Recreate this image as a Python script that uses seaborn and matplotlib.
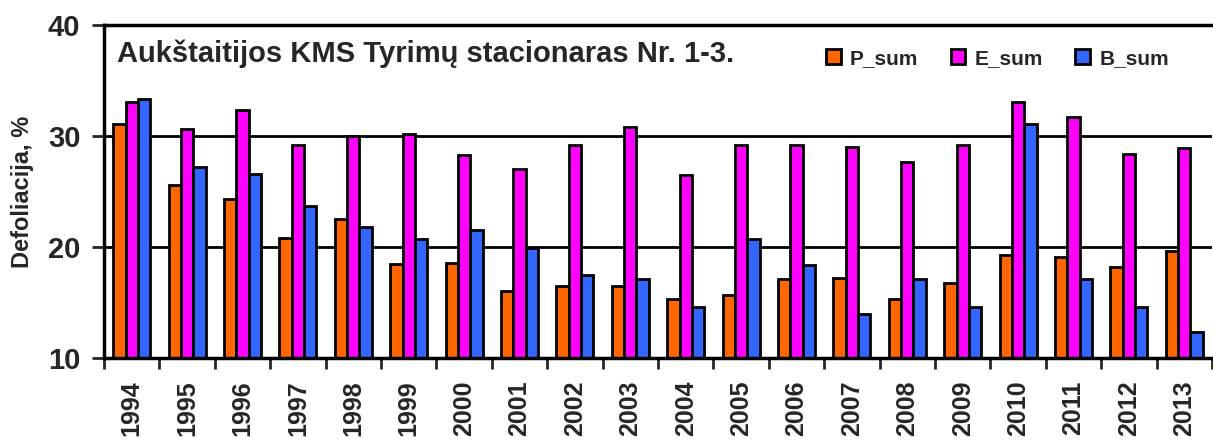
import numpy as np
import pandas as pd
import seaborn as sns
import matplotlib.pyplot as plt
from matplotlib.ticker import FixedLocator

years = [str(y) for y in range(1994, 2014)]
p_sum = [31.1, 25.6, 24.3, 20.8, 22.5, 18.5, 18.6, 16.0, 16.5, 16.5,
         15.3, 15.7, 17.1, 17.2, 15.3, 16.8, 19.3, 19.1, 18.2, 19.6]
e_sum = [33.1, 30.6, 32.3, 29.2, 30.0, 30.2, 28.3, 27.0, 29.2, 30.8,
         26.5, 29.2, 29.2, 29.0, 27.7, 29.2, 33.1, 31.7, 28.4, 28.9]
b_sum = [33.3, 27.2, 26.6, 23.7, 21.8, 20.7, 21.5, 19.9, 17.5, 17.1,
         14.6, 20.7, 18.4, 14.0, 17.1, 14.6, 31.1, 17.1, 14.6, 12.3]
series = ["P_sum", "E_sum", "B_sum"]
colors = ["#FF6600", "#FF00FF", "#3366FF"]

df = pd.DataFrame({"year": years * 3,
                   "value": p_sum + e_sum + b_sum,
                   "series": np.repeat(series, len(years))})

sns.set_style("white")
plt.rcParams['font.family'] = ['Liberation Sans', 'DejaVu Sans']

fig = plt.figure(figsize=(12.13, 4.45), dpi=100)
ax = fig.add_axes([104 / 1213, 1 - 358 / 445, 1108 / 1213, 333 / 445])

sns.barplot(data=df, x="year", y="value", hue="series", palette=colors,
            width=0.67, edgecolor="black", linewidth=2, ax=ax,
            saturation=1)

ax.set_ylim(10, 40)
ax.set_xlim(-0.5, len(years) - 0.5)
ax.set_yticks([10, 20, 30, 40])
ax.tick_params(axis="y", direction="out", length=9, width=2, left=True,
               labelsize=21, pad=8)
for lab in ax.get_yticklabels():
    lab.set_fontweight("bold")

ax.set_xticks(range(len(years)))
ax.set_xticklabels(years, rotation=90, fontsize=18, fontweight="bold",
                   va="top")
ax.tick_params(axis="x", which="major", length=0, pad=16)
ax.xaxis.set_minor_locator(FixedLocator(np.arange(-0.5, len(years), 1)))
ax.tick_params(axis="x", which="minor", direction="out", length=8, width=2,
               bottom=True)

for y in [20, 30]:
    ax.axhline(y, color="black", lw=2, zorder=0)

for side in ["top", "left", "bottom"]:
    ax.spines[side].set_color("black")
    ax.spines[side].set_linewidth(2.5)
ax.spines["right"].set_visible(False)

ax.set_xlabel("")
ax.set_ylabel("Defoliacija, %", fontsize=17, fontweight="bold")
ax.yaxis.set_label_coords(-0.0634, 0.5)

ax.text(0.012, 0.913, "Aukštaitijos KMS Tyrimų stacionaras Nr. 1-3.",
        transform=ax.transAxes, fontsize=21, fontweight="bold", va="center")

handles, labels = ax.get_legend_handles_labels()
ax.legend(handles, labels, loc="upper right", bbox_to_anchor=(0.978, 0.985),
          ncol=3, frameon=False, handlelength=0.7, handleheight=0.7,
          handletextpad=0.45, columnspacing=1.55,
          prop={"weight": "bold", "size": 15})

fig.savefig("out.png", dpi=100)
